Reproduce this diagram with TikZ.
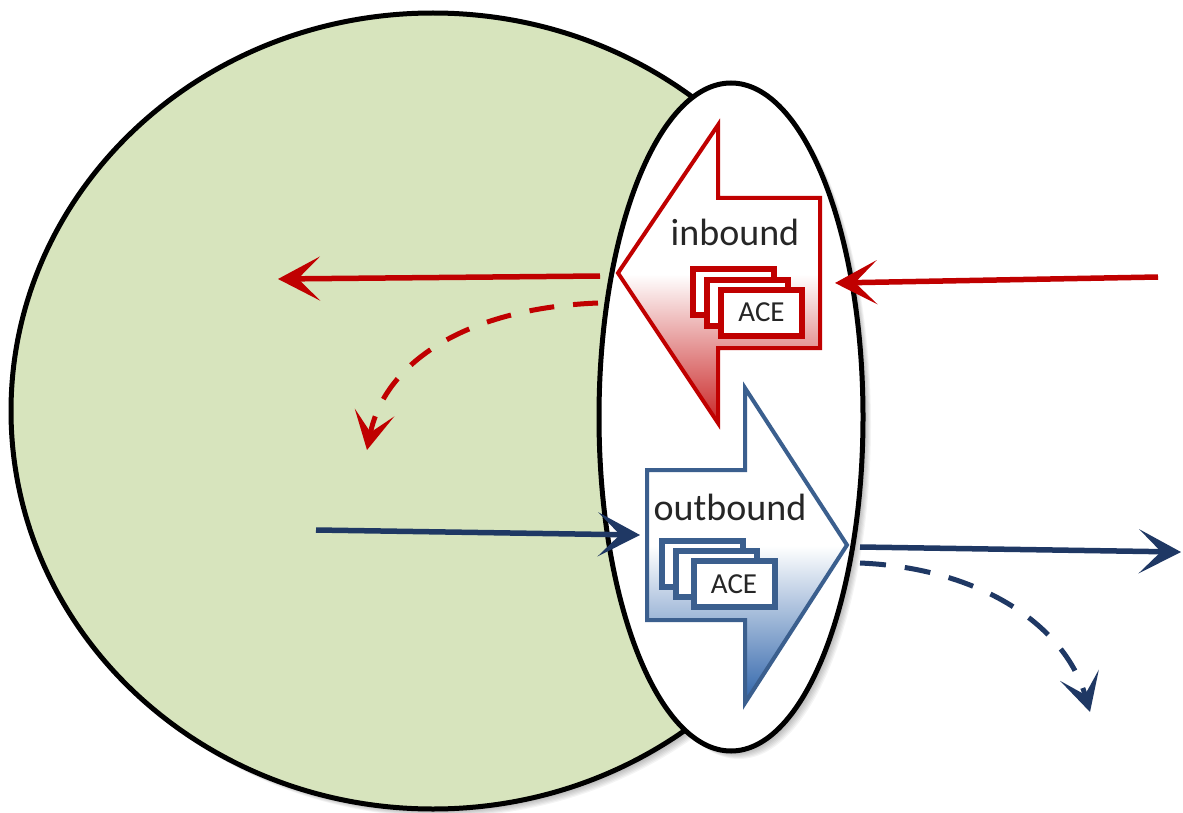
\documentclass[tikz,border=0pt]{standalone}
\usepackage{fontspec}
\setmainfont{Carlito}
\usetikzlibrary{arrows.meta,shapes.geometric}
\definecolor{cgreen}{HTML}{D7E4BD}
\definecolor{cred}{HTML}{C00000}
\definecolor{cnavy}{HTML}{1F3864}
\definecolor{cblue}{HTML}{3B5F8E}
\definecolor{cbluefill}{HTML}{2F64AA}
\begin{document}
\begin{tikzpicture}[x=1pt,y=-1pt,
  lbl/.style={inner sep=0pt, font=\fontsize{38}{42}\selectfont, text=black!85},
  acebox/.style={draw, line width=6pt, fill=white, minimum width=81pt, minimum height=46pt, inner sep=0pt},
  acetext/.style={inner sep=0pt, font=\fontsize{29}{32}\selectfont, text=black!85},
  redarr/.style={draw=cred, line width=5.5pt, -{Stealth[length=42pt,width=44pt,inset=22pt]}},
  bluearr/.style={draw=cnavy, line width=5.5pt, -{Stealth[length=42pt,width=44pt,inset=22pt]}},
  reddash/.style={draw=cred, line width=5pt, dash pattern=on 25pt off 19pt, -{Stealth[length=38pt,width=40pt,inset=20pt]}},
  bluedash/.style={draw=cnavy, line width=5pt, dash pattern=on 26pt off 19pt, -{Stealth[length=38pt,width=40pt,inset=20pt]}}
]
\useasboundingbox[fill=white] (0,0) rectangle (1183,813);
% shadows
\foreach \i in {1,...,8} {
  \fill[black,opacity=0.045] (433+\i,411+\i) ellipse [x radius=422pt, y radius=398pt];
}
\node[ellipse, draw=black, line width=5pt, fill=cgreen, minimum width=844pt, minimum height=796pt, inner sep=0pt] (disk) at (433,411) {};
\foreach \i in {1,...,8} {
  \fill[black,opacity=0.045] (731+\i,417+\i) ellipse [x radius=132pt, y radius=334pt];
}
\node[ellipse, draw=black, line width=5pt, fill=white, minimum width=264pt, minimum height=668pt, inner sep=0pt] (ring) at (731,417) {};
% inbound block arrow
\path[draw=cred, line width=4pt, line join=miter, top color=white, bottom color=cred!85, middle color=white]
  (618,273) -- (718,125) -- (718,198) -- (820,198) -- (820,348) -- (718,348) -- (718,423) -- cycle;
% outbound block arrow
\path[draw=cblue, line width=4pt, line join=miter, top color=white, bottom color=cbluefill, middle color=white]
  (745,388) -- (745,470) -- (647,470) -- (647,620) -- (745,620) -- (745,703) -- (847,545) -- cycle;
\node[lbl] (tin) at (735,232) {inbound};
\node[lbl] (tout) at (730,507) {outbound};
% ACE boxes red
\node[acebox, draw=cred] (ri1) at (733.5,292) {};
\node[acebox, draw=cred] (ri2) at (747.5,302.5) {};
\node[acebox, draw=cred] (ri3) at (761.5,312.5) {};
\node[acetext] (ritxt) at (ri3) {ACE};
% ACE boxes blue
\node[acebox, draw=cblue] (bo1) at (702.5,563.5) {};
\node[acebox, draw=cblue] (bo2) at (716,573.5) {};
\node[acebox, draw=cblue] (bo3) at (734,584) {};
\node[acetext] (botxt) at (bo3) {ACE};
% connectors
\coordinate (rA) at (1158,277);
\coordinate (rB) at (835,283);
\coordinate (rC) at (600,276);
\coordinate (rD) at (278,279);
\coordinate (rE) at (598,303);
\coordinate (rF) at (367,450);
\draw[redarr] (rA) -- (rB);
\draw[redarr] (rC) -- (rD);
\draw[reddash] (rE) .. controls (470,308) and (385,360) .. (rF);
\coordinate (bA) at (316,530);
\coordinate (bB) at (640,535);
\coordinate (bC) at (860,547);
\coordinate (bD) at (1181,552);
\coordinate (bE) at (860,563);
\coordinate (bF) at (1090,712);
\draw[bluearr] (bA) -- (bB);
\draw[bluearr] (bC) -- (bD);
\draw[bluedash] (bE) .. controls (980,568) and (1065,625) .. (bF);
\end{tikzpicture}
\end{document}
